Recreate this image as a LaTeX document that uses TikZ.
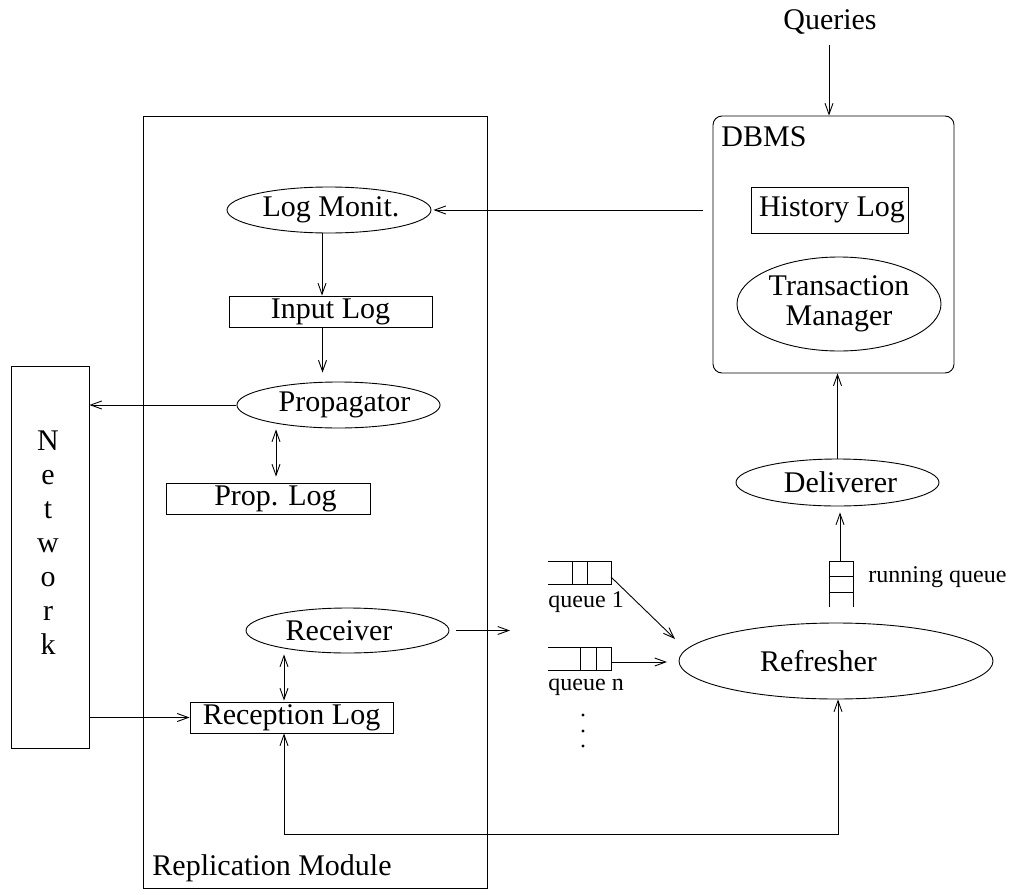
\documentclass[tikz,border=0pt]{standalone}
\usepackage{fontspec}
\setmainfont{Liberation Serif}
\usetikzlibrary{shapes.geometric,arrows.meta}
\newcommand{\shiftt}[2]{\hspace*{#1}#2}
\begin{document}
\begin{tikzpicture}[x=1pt,y=-1pt,
  font=\fontsize{30}{34}\selectfont,
  line width=0.9pt,
  arr/.style={-{Straight Barb[length=11pt,width=8pt,line width=0.9pt]}},
  arrb/.style={{Straight Barb[length=11pt,width=8pt,line width=0.9pt]}-{Straight Barb[length=11pt,width=8pt,line width=0.9pt]}},
  ell/.style={draw,ellipse,inner sep=0pt,minimum width=203pt,minimum height=46pt},
  rbox/.style={draw,rectangle,inner sep=0pt,minimum width=203pt,minimum height=31pt},
  small/.style={font=\fontsize{24}{28}\selectfont,inner sep=0pt}
]
\useasboundingbox (0,0) rectangle (1017,894);

% containers
\node[draw,rectangle,inner sep=0pt,minimum width=344pt,minimum height=772pt] (repl) at (315,502) {};
\node[anchor=south west,inner sep=0pt] (repllabel) at (152,882) {Replication Module};
\node[draw,rectangle,rounded corners=9pt,inner sep=0pt,minimum width=241pt,minimum height=257pt] (dbms) at (833.5,244.5) {};
\node[anchor=west,inner sep=0pt] (dbmslabel) at (721,137) {DBMS};
\node[draw,rectangle,inner sep=0pt,minimum width=78pt,minimum height=382pt] (network) at (50,557) {};
\node[align=center,inner sep=0pt,font=\fontsize{30}{34}\selectfont] (netlabel) at (48,543) {N\\e\\t\\w\\o\\r\\k};

\node[inner sep=0pt] (queries) at (830,22) {Queries};

% DBMS contents
\node[draw,rectangle,inner sep=0pt,minimum width=157pt,minimum height=46pt] (history) at (829.5,210) {\makebox[157pt][l]{\hspace{8pt}History Log}};
\node[ell,minimum width=204pt,minimum height=94pt,align=center] (tm) at (839,304) {Transaction\\[-4pt]Manager};

% replication module contents
\node[ell,minimum width=204pt] (logmon) at (329,210) {\shiftt{4pt}{Log Monit.}};
\node[rbox] (inputlog) at (330.5,311.5) {Input Log};
\node[ell] (prop) at (338.5,405) {\shiftt{12pt}{Propagator}};
\node[rbox,minimum width=204pt] (proplog) at (268,498.5) {\shiftt{15pt}{Prop. Log}};
\node[ell,minimum height=45pt] (receiver) at (347.5,630.5) {\shiftt{-17pt}{Receiver}};
\node[rbox] (recep) at (291.5,717.5) {Reception Log};

% right side
\node[ell,minimum height=47pt] (deliverer) at (837.5,482.5) {\shiftt{6pt}{Deliverer}};
\node[ell,minimum width=314pt,minimum height=76pt] (refresher) at (836,661) {\shiftt{-35pt}{Refresher}};

% queues
\coordinate (q1) at (611,577);
\draw (548,561) -- (611,561) -- (611,584) -- (548,584) (572,561) -- (572,584) (587,561) -- (587,584);
\node[small,anchor=west] (q1label) at (548,602) {queue 1};
\coordinate (qn) at (611,662);
\draw (548,647) -- (611,647) -- (611,670) -- (548,670) (580,647) -- (580,670) (596,647) -- (596,670);
\node[small,anchor=west] (qnlabel) at (548,687) {queue n};
\foreach \yy in {715,731,746} \fill (583,\yy) circle (1.6pt);
\coordinate (rq) at (840,561);
\draw (829,607) -- (829,561) -- (853,561) -- (853,607) (829,576) -- (853,576) (829,592) -- (853,592);
\node[small,anchor=west] (rqlabel) at (868,577) {running queue};

% connectors
\draw[arr] ([xshift=-1pt,yshift=-10pt]queries.south) -- ([xshift=-1pt]queries.south |- dbms.north);
\draw[arr] ([xshift=-10pt]logmon.east -| dbms.west) -- ([xshift=2pt]logmon.east);
\draw[arr] ([xshift=-7pt]logmon.south) -- ([xshift=-7pt]logmon.south |- inputlog.north);
\draw[arr] ([xshift=-8pt]inputlog.south) -- ([xshift=-8pt,yshift=9pt]inputlog.south |- prop.north);
\draw[arr] (prop.west) -- (prop.west -| network.east);
\draw[arrb] ([xshift=8pt,yshift=6pt]proplog.north) -- ([xshift=8pt,yshift=-1pt]proplog.north |- prop.south);
\draw[arrb] ([xshift=-7.5pt,yshift=1pt]recep.north) -- ([xshift=-7.5pt,yshift=-1pt]recep.north |- receiver.south);
\draw[arr] (network.east |- recep.west) -- (recep.west);
\coordinate (recvend) at (510,630.5);
\draw[arr] ([xshift=7pt]receiver.east) -- (recvend);
\draw[arr] (q1) -- (675,639);
\draw[arr] (qn) -- (667,662);
\draw[arr] (rq) -- ([yshift=-6pt]rq |- deliverer.south);
\draw[arr] (deliverer.north) -- (deliverer.north |- dbms.south);
\draw[arrb] ([xshift=-7.5pt]recep.south) -- ++(0,101) -| ([xshift=2pt]refresher.south);
\end{tikzpicture}
\end{document}
